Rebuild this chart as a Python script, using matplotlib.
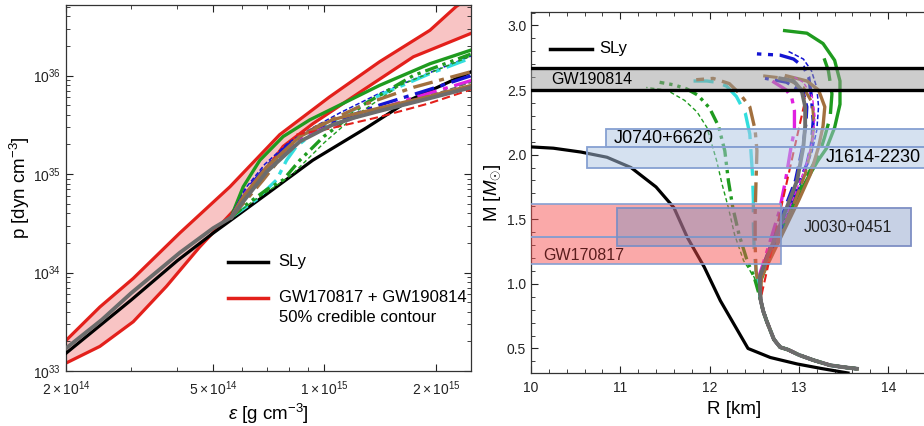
"""
Two panels: EoS p(eps) with the GW 50% contour, and the M-R relations
with the mass / radius constraints.
"""
import numpy as np
import matplotlib
matplotlib.use("Agg")
from matplotlib import pyplot as plt
from matplotlib.patches import Rectangle
from matplotlib.ticker import FixedLocator, LogLocator, MultipleLocator, NullFormatter

plt.rcParams['font.family'] = ['Liberation Sans', 'DejaVu Sans']
plt.rcParams['mathtext.fontset'] = 'custom'
plt.rcParams['mathtext.rm'] = 'Liberation Sans'
plt.rcParams['mathtext.it'] = 'Liberation Sans:italic'

# ---------------- left panel data: eps [g cm^-3], log10 p
sly_eps = [2.0e14, 3.0e14, 4.0e14, 5.0e14, 7.0e14, 9.3e14, 1.3e15, 1.7e15, 2.5e15]
sly_logp = [33.18, 33.72, 34.12, 34.40, 34.80, 35.14, 35.47, 35.75, 36.04]

contour_up_eps = [2.0e14, 2.47e14, 3.04e14, 4.06e14, 5.55e14, 7.57e14, 1.03e15,
                  1.41e15, 1.93e15, 2.27e15, 2.6e15]
contour_up_logp = [33.31, 33.65, 33.94, 34.40, 34.87, 35.40, 35.78, 36.14, 36.46, 36.70, 36.85]
contour_lo_eps = [2.0e14, 2.47e14, 3.04e14, 3.74e14, 4.6e14, 6.16e14, 7.73e14, 9.3e14,
                  1.27e15, 1.74e15, 2.5e15]
contour_lo_logp = [33.08, 33.25, 33.50, 33.86, 34.26, 34.77, 35.28, 35.51, 35.85, 36.19, 36.43]

# hadronic part shared by the hybrid EoS
hyb_eps = [2.0e14, 2.5e14, 3.0e14, 4.06e14, 5.0e14, 5.6e14]
hyb_logp = [33.23, 33.52, 33.79, 34.20, 34.45, 34.56]

# quark branches after the transition
eos_branches = {
    "green_solid": ([5.6e14, 5.67e14, 6.03e14, 6.69e14, 7.73e14, 9.13e14, 1.10e15, 1.41e15, 1.93e15, 2.5e15],
                    [34.56, 34.62, 34.87, 35.14, 35.38, 35.55, 35.70, 35.90, 36.12, 36.26]),
    "blue_thin": ([5.6e14, 6.1e14, 6.9e14, 8.0e14, 9.3e14, 1.1e15, 1.41e15, 1.93e15, 2.5e15],
                  [34.56, 34.85, 35.10, 35.32, 35.47, 35.62, 35.82, 36.03, 36.20]),
    "cyan_dashdot": ([5.6e14, 6.0e14, 6.54e14, 7.42e14, 7.9e14, 8.4e14, 9.3e14, 1.05e15, 1.41e15,
                      1.93e15, 2.5e15],
                     [34.56, 34.64, 34.74, 34.94, 35.14, 35.28, 35.41, 35.53, 35.80, 36.02, 36.18]),
    "green_dashdotdot": ([5.6e14, 6.2e14, 6.97e14, 7.73e14, 8.58e14, 9.95e14, 1.08e15, 1.27e15,
                          1.74e15, 2.5e15],
                         [34.56, 34.70, 34.84, 34.94, 35.14, 35.38, 35.48, 35.70, 36.00, 36.22]),
    "green_thin": ([5.6e14, 6.5e14, 7.4e14, 8.2e14, 9.0e14, 1.0e15, 1.2e15, 1.6e15, 2.5e15],
                   [34.56, 34.74, 34.88, 35.00, 35.15, 35.32, 35.58, 35.90, 36.20]),
    "brown_dashdot": ([5.6e14, 6.03e14, 6.83e14, 7.9e14, 8.58e14, 9.52e14, 1.27e15, 1.74e15, 2.5e15],
                      [34.56, 34.70, 34.94, 35.24, 35.38, 35.48, 35.70, 35.88, 36.04]),
    "blue_dashdot": ([5.6e14, 6.1e14, 6.9e14, 8.0e14, 9.3e14, 1.1e15, 1.41e15, 1.93e15, 2.5e15],
                     [34.56, 34.82, 35.06, 35.30, 35.45, 35.55, 35.70, 35.86, 36.00]),
    "magenta_dashdot": ([5.6e14, 6.1e14, 6.9e14, 8.0e14, 9.3e14, 1.2e15, 1.7e15, 2.5e15],
                        [34.56, 34.80, 35.04, 35.27, 35.42, 35.57, 35.76, 35.95]),
    "gray_thin": ([5.6e14, 6.1e14, 6.9e14, 8.0e14, 9.3e14, 1.1e15, 1.41e15, 1.93e15, 2.5e15],
                  [34.56, 34.80, 35.03, 35.25, 35.40, 35.52, 35.66, 35.80, 35.93]),
    "brown_solid": ([5.6e14, 6.03e14, 6.97e14, 8.58e14, 1.05e15, 1.18e15, 1.41e15, 1.93e15, 2.5e15],
                    [34.56, 34.77, 35.07, 35.38, 35.55, 35.60, 35.67, 35.79, 35.90]),
    "red_dash": ([8.4e14, 1.03e15, 1.41e15, 1.93e15, 2.5e15],
                 [35.40, 35.46, 35.58, 35.72, 35.86]),
    "gray_solid": ([5.6e14, 6.03e14, 6.97e14, 8.58e14, 1.05e15, 1.2e15, 1.41e15, 1.93e15, 2.5e15],
                   [34.56, 34.72, 35.02, 35.33, 35.50, 35.57, 35.64, 35.77, 35.88]),
}

# ---------------- right panel data: R [km], M [M_sun]
sly_R = [13.55, 13.25, 12.98, 12.68, 12.43, 12.12, 11.94, 11.75, 11.60, 11.40,
         11.12, 10.85, 10.56, 10.25, 10.00]
sly_M = [0.31, 0.345, 0.38, 0.43, 0.50, 0.87, 1.13, 1.36, 1.59, 1.75,
         1.90, 1.98, 2.02, 2.05, 2.06]

# low-mass branch shared by all hybrid stars
base_R = [13.65, 13.50, 13.35, 13.16, 13.00, 12.88, 12.79, 12.72, 12.68, 12.64, 12.60, 12.57]
base_M = [0.343, 0.355, 0.37, 0.41, 0.45, 0.49, 0.51, 0.57, 0.64, 0.71, 0.79, 0.88]

mr_branches = {
    "green_solid": ([12.56, 12.64, 12.74, 12.86, 12.98, 13.10, 13.21, 13.31, 13.40, 13.46, 13.46,
                     13.40, 13.27, 13.09, 12.84],
                    [1.0, 1.15, 1.32, 1.50, 1.67, 1.82, 1.95, 2.05, 2.21, 2.39, 2.57,
                     2.73, 2.86, 2.94, 2.96]),
    "green_dash": ([12.55, 12.62, 12.72, 12.84, 12.96, 13.08, 13.18, 13.24, 13.29, 13.35, 13.37,
                    13.33, 13.26],
                   [1.0, 1.15, 1.32, 1.50, 1.67, 1.82, 1.95, 2.03, 2.14, 2.29, 2.47,
                    2.65, 2.79]),
    "blue_dashdot": ([12.57, 12.66, 12.78, 12.90, 13.00, 13.09, 13.14, 13.16, 13.14, 13.11, 13.05,
                      12.94, 12.79, 12.53],
                     [1.05, 1.21, 1.42, 1.62, 1.78, 1.93, 2.08, 2.26, 2.45, 2.60, 2.68,
                      2.74, 2.77, 2.78]),
    "blue_thin": ([12.58, 12.70, 12.82, 12.94, 13.06, 13.15, 13.20, 13.22, 13.20, 13.14, 13.05, 12.88],
                  [1.05, 1.25, 1.45, 1.65, 1.85, 2.03, 2.19, 2.37, 2.52, 2.65, 2.74, 2.80]),
    "brown_solid": ([12.58, 12.72, 12.86, 13.00, 13.13, 13.22, 13.27, 13.29, 13.22, 13.09, 12.86],
                    [1.05, 1.25, 1.45, 1.65, 1.85, 2.06, 2.22, 2.37, 2.50, 2.57, 2.61]),
    "brown_dash": ([12.57, 12.70, 12.83, 12.96, 13.07, 13.14, 13.17, 13.15, 13.05, 12.85, 12.60],
                   [1.05, 1.25, 1.45, 1.65, 1.85, 2.06, 2.24, 2.40, 2.52, 2.59, 2.61]),
    "magenta_thin": ([12.57, 12.70, 12.84, 12.97, 13.08, 13.15, 13.18, 13.15, 13.05, 12.95],
                     [1.05, 1.28, 1.50, 1.72, 1.92, 2.10, 2.30, 2.45, 2.56, 2.60]),
    "blue_dash": ([12.56, 12.63, 12.74, 12.86, 12.96, 13.04, 13.08, 13.09, 13.05, 12.86, 12.62],
                  [1.05, 1.20, 1.40, 1.62, 1.80, 2.06, 2.24, 2.37, 2.48, 2.56, 2.59]),
    "magenta_dashdot": ([12.55, 12.62, 12.70, 12.78, 12.85, 12.91, 12.95, 12.95, 12.92, 12.86, 12.70],
                        [1.05, 1.20, 1.38, 1.56, 1.80, 2.05, 2.19, 2.34, 2.44, 2.50, 2.57]),
    "red_dash": ([13.07, 13.05, 13.02], [2.42, 2.47, 2.51]),
    "cyan_longdash": ([12.52, 12.50, 12.49, 12.49, 12.48, 12.45, 12.40, 12.30, 12.19, 12.08, 11.97, 11.82],
                      [1.10, 1.25, 1.45, 1.65, 1.85, 2.16, 2.32, 2.45, 2.53, 2.56, 2.57, 2.57]),
    "brown_dashdot": ([12.52, 12.51, 12.51, 12.52, 12.53, 12.51, 12.45, 12.34, 12.22, 12.04, 11.85],
                      [1.10, 1.30, 1.55, 1.80, 2.03, 2.19, 2.37, 2.47, 2.55, 2.59, 2.58]),
    "green_dashdot": ([12.50, 12.42, 12.33, 12.26, 12.21, 12.17, 12.10, 12.00, 11.87, 11.74, 11.60, 11.44],
                      [1.05, 1.18, 1.38, 1.59, 1.80, 2.03, 2.22, 2.36, 2.46, 2.51, 2.54, 2.56]),
    "green_thin": ([12.50, 12.38, 12.28, 12.21, 12.14, 12.08, 11.97, 11.86, 11.72, 11.52, 11.29],
                   [1.05, 1.18, 1.38, 1.59, 1.77, 1.95, 2.21, 2.33, 2.42, 2.50, 2.52]),
    "gray_solid": ([12.56, 12.64, 12.76, 12.88, 12.98, 13.05, 13.07, 13.07, 13.03, 12.94, 12.79],
                   [1.05, 1.20, 1.40, 1.62, 1.80, 2.06, 2.22, 2.37, 2.50, 2.57, 2.59]),
}

# constraints (M ranges, R ranges)
gw190814_M = (2.50, 2.67)
j0740_R, j0740_M = (10.84, 15.0), (2.06, 2.20)
j1614_R, j1614_M = (10.63, 15.0), (1.90, 2.06)
gw170817_R, gw170817_M = (9.9, 12.80), (1.155, 1.62)
gw170817_split = 1.36
j0030_R, j0030_M = (10.96, 14.26), (1.29, 1.59)

# styles
RED = '#e3201b'
GREEN = '#1f9b1f'
BLUE = '#1414d2'
CYAN = '#33dede'
BROWN = '#a2703e'
MAGENTA = '#e020e0'
GRAY = '#6c6c6c'
DD = (6, 2, 1.5, 2)
styles = {
    "green_solid": dict(color=GREEN, lw=2.4),
    "green_dash": dict(color=GREEN, lw=2.4, dashes=(7, 3)),
    "blue_thin": dict(color=BLUE, lw=1.1, dashes=(3, 1.5)),
    "cyan_dashdot": dict(color=CYAN, lw=2.4, dashes=DD),
    "cyan_longdash": dict(color=CYAN, lw=2.4, dashes=(8, 3)),
    "green_dashdotdot": dict(color=GREEN, lw=2.4, dashes=(4, 1.5, 1, 1.5, 1, 1.5)),
    "green_dashdot": dict(color=GREEN, lw=2.4, dashes=(4, 1.5, 1, 1.5, 1, 1.5)),
    "green_thin": dict(color=GREEN, lw=1.0, dashes=(3, 2)),
    "brown_dashdot": dict(color=BROWN, lw=2.4, dashes=DD),
    "brown_dash": dict(color=BROWN, lw=2.2, dashes=(5, 2)),
    "blue_dashdot": dict(color=BLUE, lw=2.4, dashes=DD),
    "blue_dash": dict(color=BLUE, lw=2.2, dashes=(5, 2)),
    "magenta_dashdot": dict(color=MAGENTA, lw=2.4, dashes=DD),
    "magenta_thin": dict(color=MAGENTA, lw=1.0, dashes=(3, 1.5)),
    "gray_thin": dict(color=GRAY, lw=1.0, dashes=(5, 2)),
    "brown_solid": dict(color=BROWN, lw=2.4),
    "red_dash": dict(color=RED, lw=1.5, dashes=(4, 2)),
    "gray_solid": dict(color=GRAY, lw=2.8),
}


def frame_ticks(ax):
    ax.tick_params(which='both', direction='in', top=True, right=True,
                   labelsize=10, colors='#222222')
    ax.tick_params(which='major', length=5, width=0.8)
    ax.tick_params(which='minor', length=3, width=0.6)
    for s in ax.spines.values():
        s.set_linewidth(0.9)
        s.set_color('#333333')


fig = plt.figure(figsize=(9.24, 4.26), dpi=100)

# ===================== left panel
ax1 = fig.add_axes([0.0714, 0.1291, 0.4383, 0.8592])
ax1.set_xscale('log')
ax1.set_yscale('log')

poly_e = list(contour_up_eps) + list(contour_lo_eps[::-1])
poly_p = list(10 ** np.array(contour_up_logp)) + list(10 ** np.array(contour_lo_logp[::-1]))
ax1.fill(poly_e, poly_p, color='#f8c4c4', lw=0, zorder=1)
ax1.plot(contour_up_eps, 10 ** np.array(contour_up_logp), color=RED, lw=2.3, zorder=2)
ax1.plot(contour_lo_eps, 10 ** np.array(contour_lo_logp), color=RED, lw=2.3, zorder=2)
ax1.plot(sly_eps, 10 ** np.array(sly_logp), color='k', lw=2.3, zorder=3)

for name, (e, lp) in eos_branches.items():
    ax1.plot(e, 10 ** np.array(lp), zorder=4, **styles[name])
ax1.plot(hyb_eps, 10 ** np.array(hyb_logp), color=GRAY, lw=2.8, zorder=5)

ax1.set_xlim(2.0e14, 2.49e15)
ax1.set_ylim(1e33, 5.2e36)
ax1.xaxis.set_major_locator(FixedLocator([2e14, 5e14, 1e15, 2e15]))
ax1.set_xticklabels([r'$2\times10^{14}$', r'$5\times10^{14}$',
                     r'$1\times10^{15}$', r'$2\times10^{15}$'])
ax1.xaxis.set_minor_locator(LogLocator(base=10, subs=np.arange(1, 10)))
ax1.xaxis.set_minor_formatter(NullFormatter())
ax1.yaxis.set_major_locator(FixedLocator([1e33, 1e34, 1e35, 1e36]))
ax1.set_yticklabels([r'$10^{33}$', r'$10^{34}$', r'$10^{35}$', r'$10^{36}$'])
ax1.yaxis.set_minor_locator(LogLocator(base=10, subs=np.arange(2, 10)))
ax1.yaxis.set_minor_formatter(NullFormatter())
frame_ticks(ax1)
ax1.tick_params(axis='x', pad=6)
ax1.set_xlabel(r'$\mathit{ε}$ [g cm$^{-3}$]', fontsize=13.5, labelpad=3)
ax1.set_ylabel(r'p [dyn cm$^{-3}$]', fontsize=13.5, labelpad=1)

# legend drawn by hand
ax1.plot([0.40, 0.50], [0.298, 0.298], transform=ax1.transAxes, color='k', lw=2.5)
ax1.text(0.525, 0.298, 'SLy', transform=ax1.transAxes, va='center', fontsize=12)
ax1.plot([0.40, 0.50], [0.20, 0.20], transform=ax1.transAxes, color=RED, lw=2.5)
ax1.text(0.525, 0.20, 'GW170817 + GW190814', transform=ax1.transAxes,
         va='center', fontsize=12)
ax1.text(0.525, 0.147, '50% credible contour', transform=ax1.transAxes,
         va='center', fontsize=12)

# ===================== right panel
ax2 = fig.add_axes([0.5747, 0.1244, 0.44, 0.8474])

ax2.plot(sly_R, sly_M, color='k', lw=2.3, zorder=3)
for name, (r, m) in mr_branches.items():
    ax2.plot(base_R + r, base_M + m, zorder=4, **styles[name])

# GW190814 band
ax2.axhspan(*gw190814_M, color='#9c9c9c', alpha=0.5, lw=0, zorder=5)
for m in gw190814_M:
    ax2.axhline(m, color='k', lw=2.4, zorder=6)

box_face = (0.68, 0.77, 0.89, 0.5)
box_edge = '#86a0d2'
ax2.add_patch(Rectangle((j0740_R[0], j0740_M[0]), j0740_R[1] - j0740_R[0],
                        j0740_M[1] - j0740_M[0], fc=box_face, ec=box_edge, lw=1.3, zorder=5))
ax2.add_patch(Rectangle((j1614_R[0], j1614_M[0]), j1614_R[1] - j1614_R[0],
                        j1614_M[1] - j1614_M[0], fc=box_face, ec=box_edge, lw=1.3, zorder=5))

pink_face = (0.96, 0.30, 0.30, 0.48)
ax2.add_patch(Rectangle((gw170817_R[0], gw170817_split), gw170817_R[1] - gw170817_R[0],
                        gw170817_M[1] - gw170817_split, fc=pink_face, ec=box_edge,
                        lw=1.2, zorder=5))
ax2.add_patch(Rectangle((gw170817_R[0], gw170817_M[0]), gw170817_R[1] - gw170817_R[0],
                        gw170817_split - gw170817_M[0], fc=pink_face, ec=box_edge,
                        lw=1.2, zorder=5))
ax2.add_patch(Rectangle((j0030_R[0], j0030_M[0]), j0030_R[1] - j0030_R[0],
                        j0030_M[1] - j0030_M[0], fc=(0.45, 0.55, 0.75, 0.4),
                        ec='#7e8fc4', lw=1.3, zorder=5))

ax2.text(10.23, 2.585, 'GW190814', fontsize=11.5, va='center', zorder=7)
ax2.text(10.93, 2.125, 'J0740+6620', fontsize=13, va='center', zorder=7)
ax2.text(13.30, 1.975, 'J1614-2230', fontsize=13, va='center', zorder=7)
ax2.text(13.05, 1.44, 'J0030+0451', fontsize=11.5, va='center', color='#222222', zorder=7)
ax2.text(10.14, 1.22, 'GW170817', fontsize=11.5, va='center', color='#5a1c1c', zorder=7)

ax2.plot([10.21, 10.68], [2.82, 2.82], color='k', lw=2.5, zorder=7)
ax2.text(10.76, 2.82, 'SLy', fontsize=12, va='center', zorder=7)

ax2.set_xlim(10.0, 14.553)
ax2.set_ylim(0.31, 3.104)
ax2.xaxis.set_major_locator(MultipleLocator(1))
ax2.xaxis.set_minor_locator(MultipleLocator(0.2))
ax2.yaxis.set_major_locator(MultipleLocator(0.5))
ax2.yaxis.set_minor_locator(MultipleLocator(0.1))
ax2.yaxis.set_major_formatter(plt.FormatStrFormatter('%.1f'))
frame_ticks(ax2)
ax2.tick_params(axis='x', pad=6)
ax2.set_xlabel('R [km]', fontsize=13.5, labelpad=4)
ax2.set_ylabel(r'M [$\mathit{M}_{\odot}$]', fontsize=13.5, labelpad=3)

fig.savefig('out.png', dpi=100)
